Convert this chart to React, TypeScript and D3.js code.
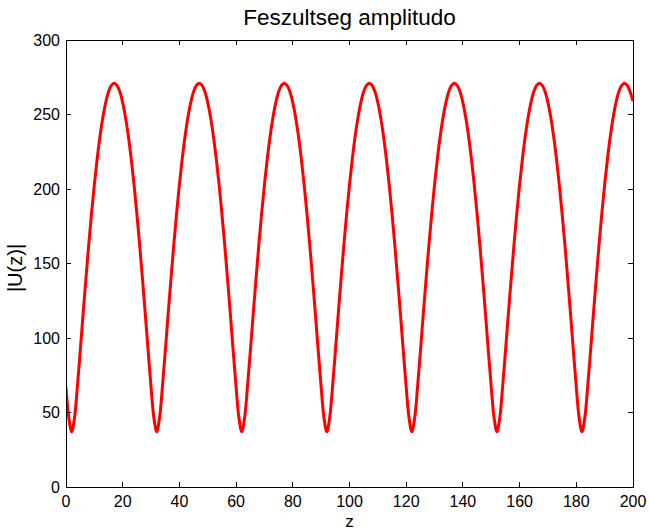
import React from 'react';
import * as d3 from 'd3';

// |U(z)|, one sample per unit of z (z = 0 .. 200)
const zStep = 1;
const uValues = [
  67.0, 46.5,
  37.0, 46.5, 67.0, 90.8, 115.3, 139.2, 162.1, 183.4, 202.9, 220.3, 235.4, 248.0, 258.0, 265.2, 269.5,
  271.0, 269.5, 265.2, 258.0, 248.0, 235.4, 220.3, 202.9, 183.4, 162.1, 139.2, 115.3, 90.8, 67.0, 46.5,
  37.0, 46.5, 67.0, 90.8, 115.3, 139.2, 162.1, 183.4, 202.9, 220.3, 235.4, 248.0, 258.0, 265.2, 269.5,
  271.0, 269.5, 265.2, 258.0, 248.0, 235.4, 220.3, 202.9, 183.4, 162.1, 139.2, 115.3, 90.8, 67.0, 46.5,
  37.0, 46.5, 67.0, 90.8, 115.3, 139.2, 162.1, 183.4, 202.9, 220.3, 235.4, 248.0, 258.0, 265.2, 269.5,
  271.0, 269.5, 265.2, 258.0, 248.0, 235.4, 220.3, 202.9, 183.4, 162.1, 139.2, 115.3, 90.8, 67.0, 46.5,
  37.0, 46.5, 67.0, 90.8, 115.3, 139.2, 162.1, 183.4, 202.9, 220.3, 235.4, 248.0, 258.0, 265.2, 269.5,
  271.0, 269.5, 265.2, 258.0, 248.0, 235.4, 220.3, 202.9, 183.4, 162.1, 139.2, 115.3, 90.8, 67.0, 46.5,
  37.0, 46.5, 67.0, 90.8, 115.3, 139.2, 162.1, 183.4, 202.9, 220.3, 235.4, 248.0, 258.0, 265.2, 269.5,
  271.0, 269.5, 265.2, 258.0, 248.0, 235.4, 220.3, 202.9, 183.4, 162.1, 139.2, 115.3, 90.8, 67.0, 46.5,
  37.0, 46.5, 67.0, 90.8, 115.3, 139.2, 162.1, 183.4, 202.9, 220.3, 235.4, 248.0, 258.0, 265.2, 269.5,
  271.0, 269.5, 265.2, 258.0, 248.0, 235.4, 220.3, 202.9, 183.4, 162.1, 139.2, 115.3, 90.8, 67.0, 46.5,
  37.0, 46.5, 67.0, 90.8, 115.3, 139.2, 162.1, 183.4, 202.9, 220.3, 235.4, 248.0, 258.0, 265.2, 269.5,
  271.0, 269.5, 265.2, 259.0,
];

const xTicks = [0, 20, 40, 60, 80, 100, 120, 140, 160, 180, 200];
const yTicks = [0, 50, 100, 150, 200, 250, 300];

const title = 'Feszultseg amplitudo';
const xLabel = 'z';
const yLabel = '|U(z)|';

const W = 649;
const H = 530;
const plot = { left: 66, right: 633, top: 40, bottom: 487 };
const tickLen = 5;
const font = '"Liberation Sans", Arial, Helvetica, sans-serif';

export default function App() {
  const x = d3.scaleLinear().domain([0, 200]).range([plot.left, plot.right]);
  const y = d3.scaleLinear().domain([0, 300]).range([plot.bottom, plot.top]);

  const line = d3
    .line<number>()
    .x((d, i) => x(i * zStep))
    .y((d) => y(d))
    .curve(d3.curveCatmullRom);

  return (
    <svg
      width={W}
      height={H}
      style={{ position: 'absolute', left: 0, top: 0, background: '#fff' }}
      fontFamily={font}
    >
      <rect x={0} y={0} width={W} height={H} fill="#fff" />

      {/* curve */}
      <defs>
        <clipPath id="plotArea">
          <rect x={plot.left} y={plot.top} width={plot.right - plot.left} height={plot.bottom - plot.top} />
        </clipPath>
      </defs>
      <path
        d={line(uValues) || ''}
        fill="none"
        stroke="#ff0000"
        strokeWidth={3}
        strokeLinejoin="round"
        clipPath="url(#plotArea)"
      />

      {/* box */}
      <rect
        x={plot.left}
        y={plot.top}
        width={plot.right - plot.left}
        height={plot.bottom - plot.top}
        fill="none"
        stroke="#000"
        strokeWidth={1}
        shapeRendering="crispEdges"
      />

      {/* x ticks, bottom and top, pointing in */}
      {xTicks.map((t) => (
        <g key={'x' + t} shapeRendering="crispEdges" stroke="#000">
          <line x1={x(t)} x2={x(t)} y1={plot.bottom} y2={plot.bottom - tickLen} />
          <line x1={x(t)} x2={x(t)} y1={plot.top} y2={plot.top + tickLen} />
        </g>
      ))}
      {xTicks.map((t) => (
        <text key={'xl' + t} x={x(t)} y={507} fontSize={16} textAnchor="middle" fill="#000">
          {t}
        </text>
      ))}

      {/* y ticks, left and right, pointing in */}
      {yTicks.map((t) => (
        <g key={'y' + t} shapeRendering="crispEdges" stroke="#000">
          <line x1={plot.left} x2={plot.left + tickLen} y1={y(t)} y2={y(t)} />
          <line x1={plot.right} x2={plot.right - tickLen} y1={y(t)} y2={y(t)} />
        </g>
      ))}
      {yTicks.map((t) => (
        <text
          key={'yl' + t}
          x={60}
          y={y(t)}
          dy="0.36em"
          fontSize={16}
          textAnchor="end"
          fill="#000"
        >
          {t}
        </text>
      ))}

      <text x={(plot.left + plot.right) / 2} y={25} fontSize={22.5} textAnchor="middle" fill="#000">
        {title}
      </text>
      <text x={(plot.left + plot.right) / 2} y={527} fontSize={17} textAnchor="middle" fill="#000">
        {xLabel}
      </text>
      <text
        transform={`translate(22, 268) rotate(-90)`}
        fontSize={20}
        textAnchor="middle"
        fill="#000"
      >
        {yLabel}
      </text>
    </svg>
  );
}
